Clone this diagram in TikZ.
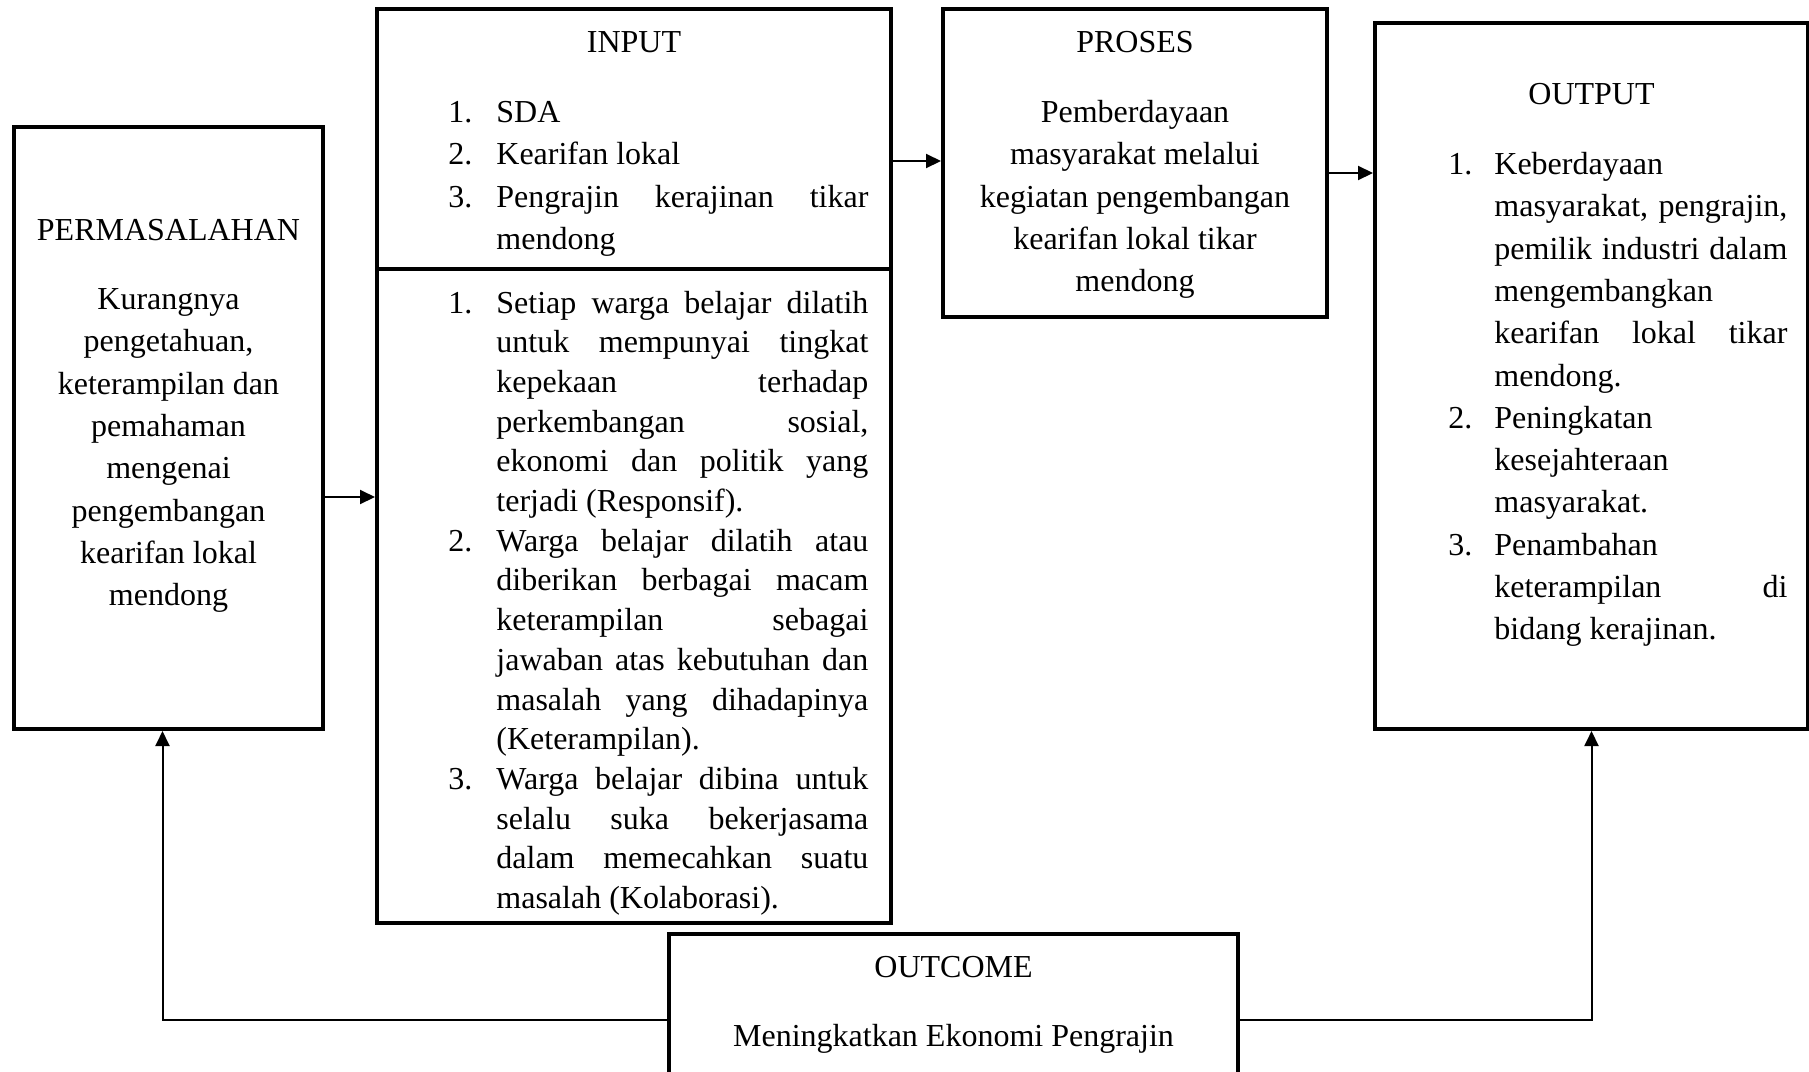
\documentclass[tikz,border=0pt]{standalone}
\usepackage{fontspec}
\setmainfont{Liberation Serif}
\usepackage{tikz}
\usetikzlibrary{arrows.meta,fit}

\newlength{\inw}\setlength{\inw}{186pt}
\newlength{\outw}\setlength{\outw}{146.5pt}
\newcommand{\jus}[2]{\makebox[#1][s]{#2}}
\newcommand{\inum}[1]{\makebox[24pt][l]{#1}}
\newcommand{\onum}[1]{\makebox[23pt][l]{#1}}

\tikzset{
  box/.style={draw, line width=2pt, inner sep=0pt},
  conn/.style={line width=1pt, -{Triangle[length=7.5pt,width=7pt]}},
  txt/.style={inner sep=0pt, font=\fontsize{16}{21.15}\selectfont},
}

\begin{document}
\begin{tikzpicture}[x=0.5pt,y=0.5pt,yscale=-1,xscale=1]
\clip[use as bounding box] (0,0) rectangle (1809,1071);

%Shape: Rectangle
\node[box, fit={(14,127) (323,729)}] (perm) {};
%Shape: Rectangle
\node[box, fit={(377,9) (891,923)}] (input) {};
\draw[line width=2pt] (input.west |- 0,269) -- (input.east |- 0,269);
%Shape: Rectangle
\node[box, fit={(943,9) (1327,317)}] (proses) {};
%Shape: Rectangle
\node[box, fit={(1375,23) (1808,729)}] (output) {};
%Shape: Rectangle
\node[box, fit={(669,934) (1238,1106)}] (outcome) {};

%Straight Lines
\draw[conn] (perm.east |- 0,497) -- (input.west |- 0,497);
\draw[conn] (input.east |- 0,161) -- (proses.west |- 0,161);
\draw[conn] (proses.east |- 0,173) -- (output.west |- 0,173);
\draw[conn] (outcome.west) -| ([xshift=-3pt]perm.south);
\draw[conn] (outcome.east) -| (output.south);

% Text Node
\node[txt, anchor=base] (permtitle) at (perm.north |- 0,240.5) {PERMASALAHAN};
% Text Node
\node[txt, anchor=base] (permtext) at (perm.north |- 0,309.5) {\parbox[t]{150pt}{\centering
Kurangnya\\ pengetahuan,\\ keterampilan dan\\ pemahaman\\ mengenai\\ pengembangan\\ kearifan lokal\\ mendong}};

% Text Node
\node[txt, anchor=base] (inputtitle) at (input.north |- 0,52.5) {INPUT};
% Text Node
\node[txt, anchor=base west] (inputtop) at (448,122.5) {\parbox[t]{210pt}{
\inum{1.}SDA\\
\inum{2.}Kearifan lokal\\
\inum{3.}\jus{\inw}{Pengrajin kerajinan tikar}\\
\hspace*{24pt}mendong}};
% Text Node
\node[txt, anchor=base west] (inputlow) at (448,313) {\parbox[t]{210pt}{\fontsize{16}{19.85}\selectfont
\inum{1.}\jus{\inw}{Setiap warga belajar dilatih}\\
\hspace*{24pt}\jus{\inw}{untuk mempunyai tingkat}\\
\hspace*{24pt}\jus{\inw}{kepekaan terhadap}\\
\hspace*{24pt}\jus{\inw}{perkembangan sosial,}\\
\hspace*{24pt}\jus{\inw}{ekonomi dan politik yang}\\
\hspace*{24pt}terjadi (Responsif).\\
\inum{2.}\jus{\inw}{Warga belajar dilatih atau}\\
\hspace*{24pt}\jus{\inw}{diberikan berbagai macam}\\
\hspace*{24pt}\jus{\inw}{keterampilan sebagai}\\
\hspace*{24pt}\jus{\inw}{jawaban atas kebutuhan dan}\\
\hspace*{24pt}\jus{\inw}{masalah yang dihadapinya}\\
\hspace*{24pt}(Keterampilan).\\
\inum{3.}\jus{\inw}{Warga belajar dibina untuk}\\
\hspace*{24pt}\jus{\inw}{selalu suka bekerjasama}\\
\hspace*{24pt}\jus{\inw}{dalam memecahkan suatu}\\
\hspace*{24pt}masalah (Kolaborasi).}};

% Text Node
\node[txt, anchor=base] (prosestitle) at (proses.north |- 0,52.5) {PROSES};
% Text Node
\node[txt, anchor=base] (prosestext) at (proses.north |- 0,122.5) {\parbox[t]{180pt}{\centering
Pemberdayaan\\ masyarakat melalui\\ kegiatan pengembangan\\ kearifan lokal tikar\\ mendong}};

% Text Node
\node[txt, anchor=base] (outputtitle) at (output.north |- 0,104.5) {OUTPUT};
% Text Node
\node[txt, anchor=base west] (outputtext) at (1448,174.5) {\parbox[t]{170pt}{
\onum{1.}Keberdayaan\\
\hspace*{23pt}\jus{\outw}{masyarakat, pengrajin,}\\
\hspace*{23pt}\jus{\outw}{pemilik industri dalam}\\
\hspace*{23pt}mengembangkan\\
\hspace*{23pt}\jus{\outw}{kearifan lokal tikar}\\
\hspace*{23pt}mendong.\\
\onum{2.}Peningkatan\\
\hspace*{23pt}kesejahteraan\\
\hspace*{23pt}masyarakat.\\
\onum{3.}Penambahan\\
\hspace*{23pt}\jus{\outw}{keterampilan di}\\
\hspace*{23pt}bidang kerajinan.}};

% Text Node
\node[txt, anchor=base] (outcometitle) at (outcome.north |- 0,977.5) {OUTCOME};
% Text Node
\node[txt, anchor=base] (outcometext) at (outcome.north |- 0,1046.5) {Meningkatkan Ekonomi Pengrajin};

\end{tikzpicture}
\end{document}
